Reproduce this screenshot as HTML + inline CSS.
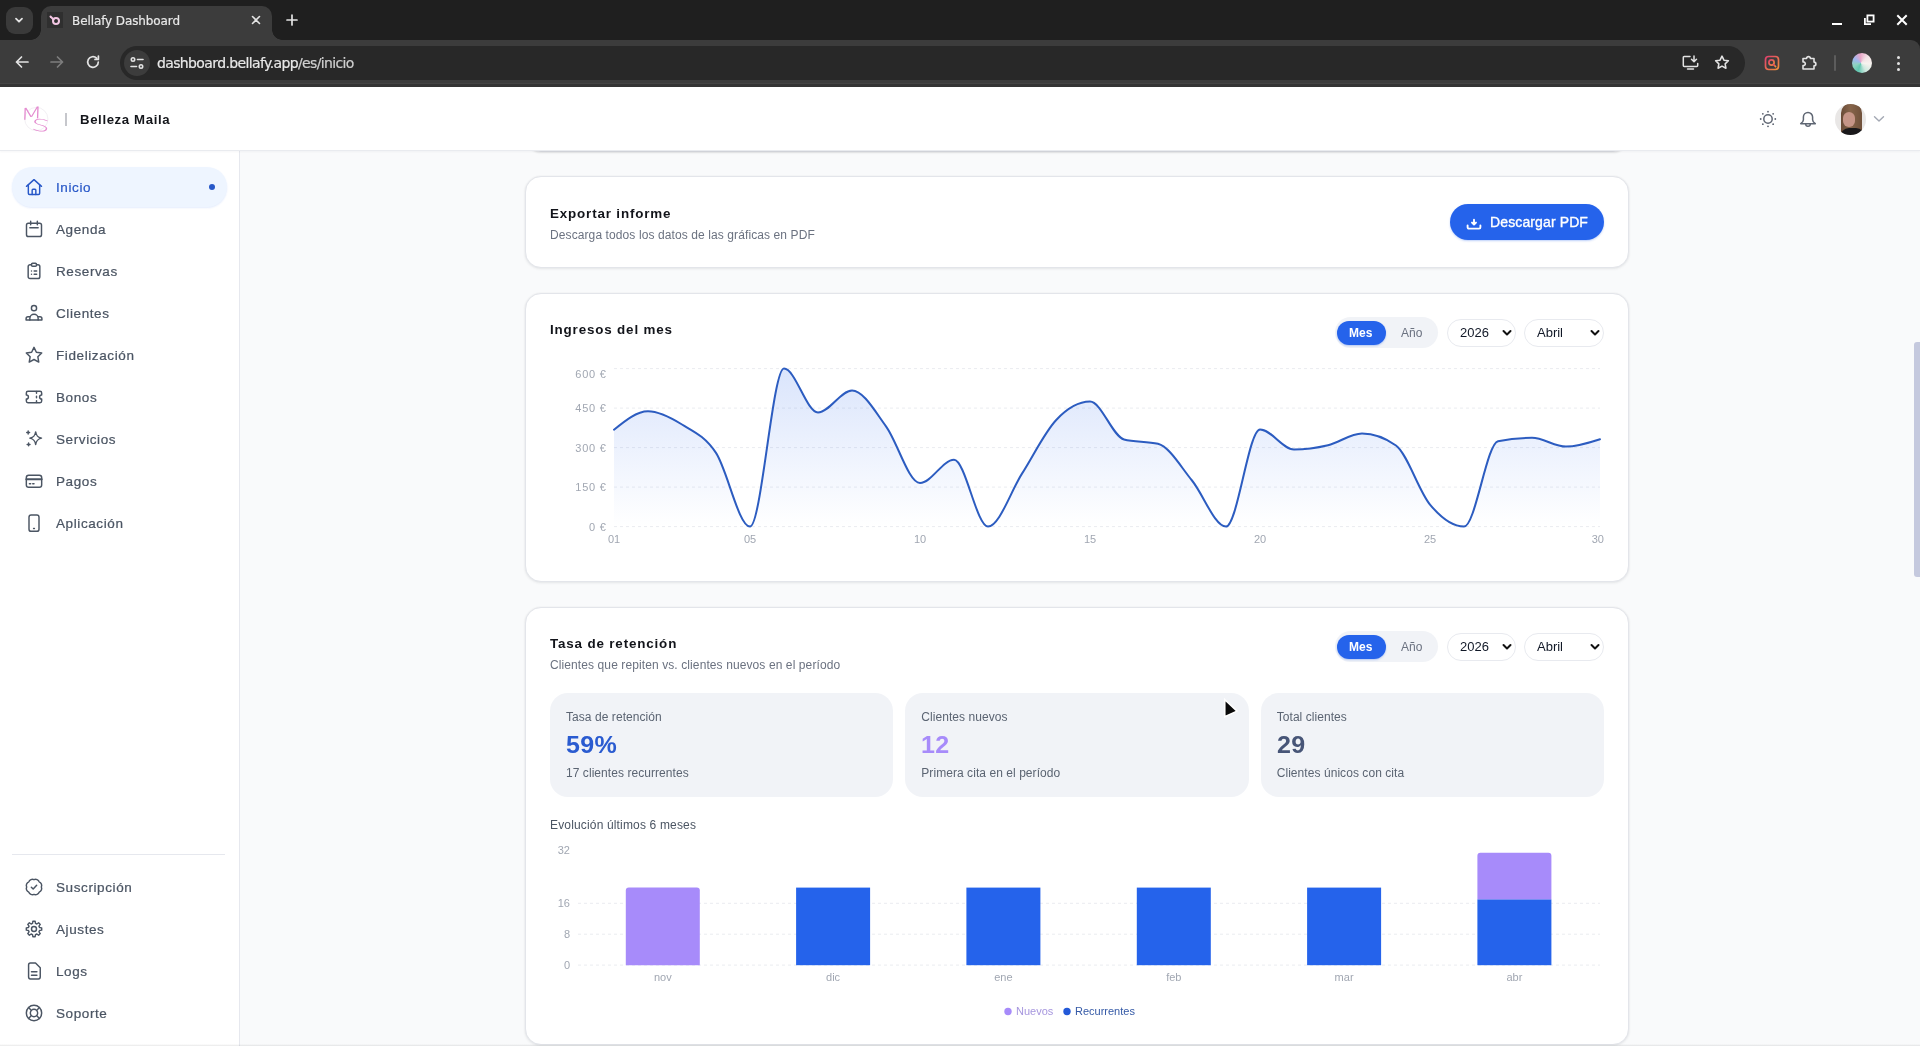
<!DOCTYPE html>
<html lang="es">
<head>
<meta charset="utf-8">
<title>Bellafy Dashboard</title>
<style>
*{box-sizing:border-box;margin:0;padding:0}
html,body{width:1920px;height:1046px;overflow:hidden;background:#f9fafb}
body{position:relative;will-change:transform;font-family:"Liberation Sans","DejaVu Sans",sans-serif;color:#111827;font-size:14px;-webkit-font-smoothing:antialiased}
.abs{position:absolute}
/* ---------- browser chrome ---------- */
#tabstrip{position:absolute;left:0;top:0;width:1920px;height:52px;background:#1f1f1f}
#toolbar{position:absolute;left:0;top:40px;width:1920px;height:47px;background:#3c3c3c;border-bottom:3px solid #343434;border-radius:0 9px 0 0;box-shadow:inset 0 -1px 0 #444}
#tabdrop{position:absolute;left:6px;top:7px;width:27px;height:27px;border-radius:9px;background:#3a3a3a}
#tab{position:absolute;left:41px;top:6px;width:231px;height:34px;background:#3c3c3c;border-radius:10px 10px 0 0}
#tab:before,#tab:after{content:"";position:absolute;bottom:0;width:10px;height:10px;background:radial-gradient(circle at 0 0,transparent 9.5px,#3c3c3c 10px)}
#tab:before{left:-10px}
#tab:after{right:-10px;background:radial-gradient(circle at 100% 0,transparent 9.5px,#3c3c3c 10px)}
.chrometxt{font-family:"DejaVu Sans","Liberation Sans",sans-serif;color:#e8e8e8;white-space:nowrap;-webkit-text-stroke:.2px #e8e8e8}
#tabtitle{position:absolute;left:72px;top:12.6px;font-size:12px;line-height:16px;letter-spacing:-0.1px}
#omni{position:absolute;left:120px;top:46px;width:1625px;height:34px;border-radius:17px;background:#282828}
#siteinfo{position:absolute;left:124px;top:50px;width:26px;height:26px;border-radius:13px;background:#3c3c3c}
#url{position:absolute;left:157px;top:53px;font-size:14px;line-height:20px;letter-spacing:-0.63px}
#url span{color:#cfcfcf;-webkit-text-stroke:.2px #cfcfcf}
/* ---------- app header ---------- */
#hdr{position:absolute;left:0;top:87px;width:1920px;height:64px;background:#fff;border-bottom:1px solid #e9ebef;box-shadow:0 1px 2px rgba(15,23,42,.04);z-index:5}
#brand{position:absolute;left:80px;top:23.5px;font-size:13.2px;line-height:18px;font-weight:700;color:#14161b;letter-spacing:.62px;white-space:nowrap}
#brandsep{position:absolute;left:65px;top:26px;width:2px;height:13px;background:#c6c7cc}
/* ---------- sidebar ---------- */
#side{position:absolute;left:0;top:151px;width:240px;height:895px;background:#fff;border-right:1px solid #e6e8ee;z-index:4}
.nav{position:absolute;left:12px;width:215px;height:40px;border-radius:20px}
.nav svg{position:absolute;left:12px;top:10px;width:20px;height:20px;fill:none;stroke:#4b5563;stroke-width:1.75;stroke-linecap:round;stroke-linejoin:round}
.nav span{position:absolute;left:44px;top:11.6px;font-size:13.5px;line-height:18px;letter-spacing:.6px;color:#4b5563;-webkit-text-stroke:.22px #4b5563;white-space:nowrap}
.nav.on{background:#eef5ff;box-shadow:0 1px 2px rgba(37,99,235,.12)}
.nav.on svg{stroke:#2858c8}
.nav.on span{color:#2858c8;-webkit-text-stroke:.22px #2858c8}
.nav.on i{position:absolute;left:197px;top:17px;width:6px;height:6px;border-radius:3px;background:#2858c8}
#sidesep{position:absolute;left:12px;top:703px;width:213px;height:1px;background:#e6e8ee}
/* ---------- main ---------- */
.card{position:absolute;left:525px;width:1104px;background:#fff;border:1px solid #e3e5ea;border-radius:16px;box-shadow:0 1px 3px rgba(15,23,42,.08),0 0 2px rgba(15,23,42,.05)}
.h{position:absolute;font-size:13.4px;line-height:18px;font-weight:700;color:#12141a;white-space:nowrap;letter-spacing:.84px;margin-top:.5px}
.sub{position:absolute;font-size:12px;line-height:16px;color:#6b7280;white-space:nowrap;letter-spacing:.1px}
.ax{font-family:"Liberation Sans","DejaVu Sans",sans-serif;font-size:11px;fill:#a1a7b2}
.axw{letter-spacing:.8px}
.lg{font-family:"Liberation Sans","DejaVu Sans",sans-serif;font-size:11px}
.bl{font-size:12px;line-height:16px;color:#5b6472;white-space:nowrap;letter-spacing:.06px}
.bv{font-size:23.2px;line-height:28px;font-weight:700;white-space:nowrap;letter-spacing:.3px;transform:scaleX(1.08);transform-origin:0 50%}
</style>
</head>
<body>
<!-- ================= BROWSER CHROME ================= -->
<div id="tabstrip"></div>
<div id="tabdrop"></div>
<div id="tab"></div>
<div id="tabtitle" class="chrometxt">Bellafy Dashboard</div>
<div id="toolbar"></div>
<div id="omni"></div>
<div id="siteinfo"></div>
<div id="url" class="chrometxt">dashboard.bellafy.app<span>/es/inicio</span></div>
<svg class="abs" style="left:13px;top:14px" width="12" height="12" viewBox="0 0 12 12" fill="none" stroke="#e3e3e3" stroke-width="1.800" stroke-linecap="round" stroke-linejoin="round"><path d="M3 4.700l3 3 3-3"/></svg>
<div class="abs" style="left:47px;top:12px;width:16px;height:16px;background:#2f2f2f"></div>
<svg class="abs" style="left:47px;top:12px" width="16" height="16" viewBox="0 0 16 16" fill="none" stroke="#f3c6e3" stroke-width="2" stroke-linecap="round"><circle cx="9" cy="9" r="3"/><path d="M3.500 4.500l3 3"/></svg>
<svg class="abs" style="left:251px;top:15px" width="10" height="10" viewBox="0 0 10 10" fill="none" stroke="#e3e3e3" stroke-width="1.600" stroke-linecap="round"><path d="M1.500 1.500l7 7M8.500 1.500l-7 7"/></svg>
<svg class="abs" style="left:286px;top:14px" width="12" height="12" viewBox="0 0 12 12" fill="none" stroke="#e3e3e3" stroke-width="1.700" stroke-linecap="round"><path d="M6 1v10M1 6h10"/></svg>
<div class="abs" style="left:1832px;top:23px;width:10px;height:2px;background:#fff"></div>
<svg class="abs" style="left:1863px;top:14px" width="12" height="12" viewBox="0 0 12 12" fill="none" stroke="#fff" stroke-width="1.800"><rect x="4.400" y="1.400" width="6.200" height="6.200"/><path d="M1.900 4v6.100H8"/></svg>
<svg class="abs" style="left:1896px;top:14px" width="12" height="12" viewBox="0 0 12 12" fill="none" stroke="#fff" stroke-width="2" stroke-linecap="square"><path d="M2 2l8 8M10 2l-8 8"/></svg>
<svg class="abs" style="left:14px;top:54px" width="16" height="16" viewBox="0 0 16 16" fill="none" stroke="#e3e3e3" stroke-width="1.700" stroke-linecap="round" stroke-linejoin="round"><path d="M14 8H2.500M7.500 3l-5 5 5 5"/></svg>
<svg class="abs" style="left:49px;top:54px" width="16" height="16" viewBox="0 0 16 16" fill="none" stroke="#7d7d7d" stroke-width="1.700" stroke-linecap="round" stroke-linejoin="round"><path d="M2 8h11.500M8.500 3l5 5-5 5"/></svg>
<svg class="abs" style="left:85px;top:54px" width="16" height="16" viewBox="0 0 16 16" fill="none" stroke="#e3e3e3" stroke-width="1.700" stroke-linecap="round" stroke-linejoin="round"><path d="M13.300 8a5.300 5.300 0 1 1-1.700-3.900"/><path d="M13.400 2v3.400H10" /></svg>
<svg class="abs" style="left:129px;top:55px" width="16" height="16" viewBox="0 0 16 16" fill="none" stroke="#e3e3e3" stroke-width="1.600" stroke-linecap="round"><circle cx="4" cy="4.500" r="1.700"/><path d="M8.500 4.500h5.500"/><circle cx="12" cy="11.500" r="1.700"/><path d="M2 11.500h5.500"/></svg>
<svg class="abs" style="left:1682px;top:55px" width="17" height="16" viewBox="0 0 17 16" fill="none" stroke="#e3e3e3" stroke-width="1.500" stroke-linejoin="round" stroke-linecap="round"><path d="M8 1.500H2.200a.900.900 0 0 0-.900.900v8.200a.900.900 0 0 0 .900.900h12.600a.900.900 0 0 0 .900-.900V8.500"/><path d="M5.500 14h6"/><path d="M12 1v5.500M9.500 4.300l2.500 2.500 2.500-2.500"/></svg>
<svg class="abs" style="left:1713px;top:54px" width="18" height="17" viewBox="0 0 24 24" fill="none" stroke="#e3e3e3" stroke-width="2.200" stroke-linejoin="round"><path d="M12 3l2.750 5.700 6.250.850-4.550 4.350 1.100 6.200L12 17.100l-5.550 3 1.100-6.200L3 9.550l6.250-.850z"/></svg>
<svg class="abs" style="left:1764px;top:55px" width="16" height="16" viewBox="0 0 16 16" fill="none" stroke-width="1.700" stroke-linecap="round"><defs><linearGradient id="eg" x1="0" y1="0" x2="1" y2="1"><stop offset="0" stop-color="#e0406e"/><stop offset="1" stop-color="#f0913a"/></linearGradient></defs><rect x="1.500" y="1.500" width="13" height="13" rx="3.200" stroke="url(#eg)"/><circle cx="7.500" cy="7.500" r="2.600" stroke="url(#eg)"/><path d="M9.600 9.600l2 2" stroke="url(#eg)"/></svg>
<svg class="abs" style="left:1800px;top:53px" width="18" height="18" viewBox="0 0 18 18" fill="none" stroke="#e3e3e3" stroke-width="1.600" stroke-linejoin="round"><path d="M3 5.500h3.600a1.900 1.900 0 1 1 3.800 0H14v3.600a1.900 1.900 0 1 1 0 3.800V16H3v-3.400a1.900 1.900 0 1 0 0-3.700z"/></svg>
<div class="abs" style="left:1834px;top:55px;width:2px;height:16px;border-radius:1px;background:#5c5c5c"></div>
<div class="abs" style="left:1852px;top:53px;width:20px;height:20px;border-radius:10px;background:conic-gradient(from 200deg at 45% 50%,#5fc6b0,#8fd3c0,#9fb7f0,#e8a6c8,#f3e3e6,#f7f3ef,#cfe9df,#5fc6b0)"></div>
<div class="abs" style="left:1896.500px;top:55.5px;width:3px;height:3px;border-radius:2px;background:#e3e3e3"></div>
<div class="abs" style="left:1896.500px;top:61.5px;width:3px;height:3px;border-radius:2px;background:#e3e3e3"></div>
<div class="abs" style="left:1896.500px;top:67.5px;width:3px;height:3px;border-radius:2px;background:#e3e3e3"></div>

<!-- ================= APP HEADER ================= -->
<div id="hdr">
  <div id="brandsep"></div>
  <div id="brand">Belleza Maila</div>
  <svg class="abs" style="left:21px;top:14px" width="30" height="34" viewBox="0 0 30 34"><circle cx="15.300" cy="18" r="11.600" fill="none" stroke="#f3f0f4" stroke-width="1"/><text transform="translate(-1 19.300) rotate(-6) skewX(-8) scale(1.450 .900)" font-family="DejaVu Sans, Liberation Sans, sans-serif" font-weight="200" font-size="18" fill="#e48bd0">M</text><text transform="translate(9.600 28.900) rotate(7) scale(1.750 .980)" font-family="DejaVu Sans, Liberation Sans, sans-serif" font-weight="200" font-size="17" fill="#e48bd0">S</text></svg>
<svg class="abs" style="left:1758px;top:22px" width="20" height="20" viewBox="0 0 20 20" fill="none" stroke="#5f6673" stroke-width="1.500" stroke-linecap="round"><circle cx="10" cy="10" r="4.200"/><path d="M17.29 10.00h.02" stroke-width="1.800"/><path d="M15.15 15.16h.02" stroke-width="1.800"/><path d="M9.99 17.30h.02" stroke-width="1.800"/><path d="M4.83 15.16h.02" stroke-width="1.800"/><path d="M2.69 10.00h.02" stroke-width="1.800"/><path d="M4.83 4.84h.02" stroke-width="1.800"/><path d="M9.99 2.70h.02" stroke-width="1.800"/><path d="M15.15 4.84h.02" stroke-width="1.800"/></svg>
<svg class="abs" style="left:1798px;top:22px" width="20" height="20" viewBox="0 0 20 20" fill="none" stroke="#5f6673" stroke-width="1.500" stroke-linecap="round" stroke-linejoin="round"><path d="M10 3.500a4.600 4.600 0 0 0-4.600 4.600v2.700c0 1.600-1 2.800-2.700 3.900h14.600c-1.700-1.100-2.700-2.300-2.700-3.900V8.100A4.600 4.600 0 0 0 10 3.500z"/><path d="M7.700 14.900a2.300 2.300 0 0 0 4.600 0"/></svg>
<div class="abs" style="left:1834.500px;top:17px;width:31px;height:31px;border-radius:16px;overflow:hidden;background:#e9e7e6"><div class="abs" style="left:0;top:0;width:31px;height:31px;filter:blur(.6px)"><div class="abs" style="left:6px;top:-1px;width:21px;height:33px;border-radius:10px 10px 3px 3px;background:linear-gradient(90deg,#6a4b37,#86644a 45%,#70513b)"></div><div class="abs" style="left:8.500px;top:8px;width:11.500px;height:15px;border-radius:6px;background:#c69587"></div><div class="abs" style="left:5px;top:24px;width:25px;height:10px;border-radius:9px 9px 0 0;background:#19181a"></div></div></div>
<svg class="abs" style="left:1872px;top:26px" width="14" height="12" viewBox="0 0 14 12" fill="none" stroke="#a3a8b3" stroke-width="1.400" stroke-linecap="round" stroke-linejoin="round"><path d="M2.500 3.800L7 8l4.500-4.200"/></svg>
</div>

<!-- ================= SIDEBAR ================= -->
<div id="side">
<div class="nav on" style="top:16px"><svg viewBox="0 0 24 24"><path d="M3 11.2 12 3.2l9 8"/><path d="M5.2 9.6V19.6a1.4 1.4 0 0 0 1.4 1.4h10.8a1.4 1.4 0 0 0 1.4-1.4V9.6"/><path d="M9.8 21v-5.2a1 1 0 0 1 1-1h2.4a1 1 0 0 1 1 1V21"/></svg><span>Inicio</span><i></i></div>
<div class="nav" style="top:58px"><svg viewBox="0 0 24 24"><rect x="3" y="5" width="18" height="16" rx="2.2"/><path d="M8 2.8v4M16 2.8v4M7 10.5h10"/></svg><span>Agenda</span></div>
<div class="nav" style="top:100px"><svg viewBox="0 0 24 24"><path d="M9 4.5H7.2A2.2 2.2 0 0 0 5 6.7v12.1A2.2 2.2 0 0 0 7.200 21h9.6a2.200 2.200 0 0 0 2.200-2.200V6.700a2.200 2.200 0 0 0-2.200-2.200H15"/><rect x="9" y="2.600" width="6" height="3.800" rx="1.300"/><path d="M9 12h.01M9 16h.01M12.200 12h3M12.200 16h3"/></svg><span>Reservas</span></div>
<div class="nav" style="top:142px"><svg viewBox="0 0 24 24"><circle cx="12" cy="6.200" r="3.100"/><path d="M7 20.500v-2a5 5 0 0 1 10 0v2z"/><path d="M7 16.500H4.800a2.300 2.300 0 0 0-2.300 2.300v1.700H7M17 16.500h2.200a2.300 2.300 0 0 1 2.300 2.300v1.700H17"/></svg><span>Clientes</span></div>
<div class="nav" style="top:184px"><svg viewBox="0 0 24 24"><path d="M12 2.800l2.850 5.850 6.400.900-4.650 4.500 1.120 6.400L12 17.400l-5.720 3.050 1.120-6.400L2.750 9.550l6.400-.900z"/></svg><span>Fidelización</span></div>
<div class="nav" style="top:226px"><svg viewBox="0 0 24 24"><path d="M2.800 7.200a2 2 0 0 1 2-2h14.400a2 2 0 0 1 2 2v2.300a2.500 2.500 0 0 0 0 5v2.300a2 2 0 0 1-2 2H4.800a2 2 0 0 1-2-2v-2.300a2.500 2.500 0 0 0 0-5z"/><path d="M15 5.500v2M15 11v2M15 16.500v2"/></svg><span>Bonos</span></div>
<div class="nav" style="top:268px"><svg viewBox="0 0 24 24"><path d="M14 3.500c.700 4.700 2.300 6.300 7 7.500-4.700 1.200-6.300 2.800-7 7.500-.700-4.700-2.300-6.300-7-7.500 4.700-1.200 6.300-2.800 7-7.500z"/><path d="M5 2.500v3.400M3.300 4.200h3.400M5.500 16.800v3.400M3.800 18.500h3.400"/></svg><span>Servicios</span></div>
<div class="nav" style="top:310px"><svg viewBox="0 0 24 24"><rect x="2.800" y="5" width="18.400" height="14.500" rx="2.800"/><path d="M2.800 10h18.400" stroke-width="2.400"/><path d="M6.500 15.200h1.500M10.500 15.200h1.500"/></svg><span>Pagos</span></div>
<div class="nav" style="top:352px"><svg viewBox="0 0 24 24"><rect x="6" y="2.500" width="12" height="19.500" rx="2.600"/><path d="M11.500 18.500h1"/></svg><span>Aplicación</span></div>
<div id="sidesep"></div>
<div class="nav" style="top:716px"><svg viewBox="0 0 24 24"><path d="M12.00 3.20A4.6 4.6 0 0 1 18.22 5.78A4.6 4.6 0 0 1 20.80 12.00A4.6 4.6 0 0 1 18.22 18.22A4.6 4.6 0 0 1 12.00 20.80A4.6 4.6 0 0 1 5.78 18.22A4.6 4.6 0 0 1 3.20 12.00A4.6 4.6 0 0 1 5.78 5.78A4.6 4.6 0 0 1 12.00 3.20Z"/><path d="M8.800 12.300l2.200 2.200 4.200-4.500"/></svg><span>Suscripción</span></div>
<div class="nav" style="top:758px"><svg viewBox="0 0 24 24"><path d="M18.66 10.21L21.20 10.63L21.20 13.37L18.66 13.79L17.98 15.45L19.48 17.53L17.53 19.48L15.45 17.98L13.79 18.66L13.37 21.20L10.63 21.20L10.21 18.66L8.55 17.98L6.47 19.48L4.52 17.53L6.02 15.45L5.34 13.79L2.80 13.37L2.80 10.63L5.34 10.21L6.02 8.55L4.52 6.47L6.47 4.52L8.55 6.02L10.21 5.34L10.63 2.80L13.37 2.80L13.79 5.34L15.45 6.02L17.53 4.52L19.48 6.47L17.98 8.55Z"/><circle cx="12" cy="12" r="3"/></svg><span>Ajustes</span></div>
<div class="nav" style="top:800px"><svg viewBox="0 0 24 24"><path d="M5.500 4.700a2.200 2.200 0 0 1 2.200-2.200h6.100L19.500 8v11.300a2.200 2.200 0 0 1-2.200 2.200H7.700a2.200 2.200 0 0 1-2.200-2.200z"/><path d="M9 13h6.500M9 17h6.500"/></svg><span>Logs</span></div>
<div class="nav" style="top:842px"><svg viewBox="0 0 24 24"><circle cx="12" cy="12" r="9.200"/><circle cx="12" cy="12" r="4.400"/><path d="M5.500 5.500l3.400 3.400M18.500 5.500l-3.400 3.400M5.500 18.500l3.400-3.400M18.500 18.500l-3.400-3.400"/></svg><span>Soporte</span></div>
</div>

<!-- ================= MAIN ================= -->
<div class="abs" style="left:525px;top:120px;width:1104px;height:32px;background:#fff;border:1px solid #d6d8dd;border-radius:16px;box-shadow:0 1px 2px rgba(0,0,0,.10)"></div>
<div class="card" style="top:176px;height:92px"></div>
<div class="h" style="left:550px;top:204px" id="t1">Exportar informe</div>
<div class="sub" style="left:550px;top:227px" id="s1">Descarga todos los datos de las gráficas en PDF</div>
<div class="abs" id="btn" style="left:1450px;top:204px;width:154px;height:36px;border-radius:18px;background:#2563eb;box-shadow:0 1px 2px rgba(37,99,235,.3)"></div>
<svg class="abs" style="left:1466px;top:218px" width="16" height="12" viewBox="0 0 16 12" fill="none" stroke="#fff" stroke-width="1.900" stroke-linecap="round" stroke-linejoin="round"><path d="M1.600 7.500v1.800a1.300 1.300 0 0 0 1.300 1.300h10.200a1.300 1.300 0 0 0 1.300-1.300V7.500"/><path d="M8 1.800v4.500M6 4.600l2 2 2-2"/></svg>
<div class="abs" id="btnt" style="left:1490px;top:213px;font-size:14px;line-height:18px;color:#fff;-webkit-text-stroke:.35px #fff;white-space:nowrap;letter-spacing:.12px">Descargar PDF</div>
<div class="card" style="top:292.500px;height:289.500px"></div>
<div class="h" style="left:550px;top:320px" id="t2">Ingresos del mes</div>
<div class="abs" style="left:1335px;top:317px;width:103px;height:31px;border-radius:16px;background:#f1f3f7"></div>
<div class="abs" style="left:1337px;top:320.5px;width:49px;height:24.5px;border-radius:13px;background:#2563eb;box-shadow:0 1px 2px rgba(37,99,235,.3)"></div>
<div class="abs tg" style="left:1349px;top:325px;font-size:12px;line-height:16px;font-weight:700;color:#fff;white-space:nowrap">Mes</div>
<div class="abs tg2" style="left:1401px;top:325px;font-size:12px;line-height:16px;color:#6b7280;white-space:nowrap">Año</div>
<div class="abs" style="left:1447px;top:319px;width:69px;height:28px;border-radius:14px;background:#fff;border:1px solid #e8eaef"></div>
<div class="abs sel1" style="left:1460px;top:325px;font-size:13px;line-height:16px;color:#111827;white-space:nowrap">2026</div>
<svg class="abs" style="left:1501px;top:328px" width="12" height="10" viewBox="0 0 12 10" fill="none" stroke="#111" stroke-width="2" stroke-linecap="round" stroke-linejoin="round"><path d="M2.500 3l3.500 3.500L9.500 3"/></svg>
<div class="abs" style="left:1524px;top:319px;width:80px;height:28px;border-radius:14px;background:#fff;border:1px solid #e8eaef"></div>
<div class="abs sel2" style="left:1537px;top:325px;font-size:13px;line-height:16px;color:#111827;white-space:nowrap">Abril</div>
<svg class="abs" style="left:1589px;top:328px" width="12" height="10" viewBox="0 0 12 10" fill="none" stroke="#111" stroke-width="2" stroke-linecap="round" stroke-linejoin="round"><path d="M2.500 3l3.500 3.500L9.500 3"/></svg>
<div class="card" style="top:606.500px;height:438.500px"></div>
<div class="h" style="left:550px;top:634px" id="t3">Tasa de retención</div>
<div class="sub" style="left:550px;top:657px" id="s3">Clientes que repiten vs. clientes nuevos en el período</div>
<div class="abs" style="left:1335px;top:631px;width:103px;height:31px;border-radius:16px;background:#f1f3f7"></div>
<div class="abs" style="left:1337px;top:634.5px;width:49px;height:24.5px;border-radius:13px;background:#2563eb;box-shadow:0 1px 2px rgba(37,99,235,.3)"></div>
<div class="abs tg" style="left:1349px;top:639px;font-size:12px;line-height:16px;font-weight:700;color:#fff;white-space:nowrap">Mes</div>
<div class="abs tg2" style="left:1401px;top:639px;font-size:12px;line-height:16px;color:#6b7280;white-space:nowrap">Año</div>
<div class="abs" style="left:1447px;top:633px;width:69px;height:28px;border-radius:14px;background:#fff;border:1px solid #e8eaef"></div>
<div class="abs sel1" style="left:1460px;top:639px;font-size:13px;line-height:16px;color:#111827;white-space:nowrap">2026</div>
<svg class="abs" style="left:1501px;top:642px" width="12" height="10" viewBox="0 0 12 10" fill="none" stroke="#111" stroke-width="2" stroke-linecap="round" stroke-linejoin="round"><path d="M2.500 3l3.500 3.500L9.500 3"/></svg>
<div class="abs" style="left:1524px;top:633px;width:80px;height:28px;border-radius:14px;background:#fff;border:1px solid #e8eaef"></div>
<div class="abs sel2" style="left:1537px;top:639px;font-size:13px;line-height:16px;color:#111827;white-space:nowrap">Abril</div>
<svg class="abs" style="left:1589px;top:642px" width="12" height="10" viewBox="0 0 12 10" fill="none" stroke="#111" stroke-width="2" stroke-linecap="round" stroke-linejoin="round"><path d="M2.500 3l3.500 3.500L9.500 3"/></svg>
<div class="abs" style="left:550px;top:693px;width:343.3px;height:104px;border-radius:18px;background:#f1f3f7"></div>
<div class="abs bl" style="left:566px;top:709px">Tasa de retención</div>
<div class="abs bv" style="left:566px;top:731px;color:#2a5bd0">59%</div>
<div class="abs bl bs" style="left:566px;top:765px">17 clientes recurrentes</div>
<div class="abs" style="left:905.3px;top:693px;width:343.3px;height:104px;border-radius:18px;background:#f1f3f7"></div>
<div class="abs bl" style="left:921.3px;top:709px">Clientes nuevos</div>
<div class="abs bv" style="left:921.3px;top:731px;color:#a78bfa">12</div>
<div class="abs bl bs" style="left:921.3px;top:765px">Primera cita en el período</div>
<div class="abs" style="left:1260.7px;top:693px;width:343.3px;height:104px;border-radius:18px;background:#f1f3f7"></div>
<div class="abs bl" style="left:1276.7px;top:709px">Total clientes</div>
<div class="abs bv" style="left:1276.7px;top:731px;color:#475577">29</div>
<div class="abs bl bs" style="left:1276.7px;top:765px">Clientes únicos con cita</div>
<div class="abs bl" style="left:550px;top:817px;color:#4b5563;letter-spacing:.16px" id="evo">Evolución últimos 6 meses</div>
<svg class="abs" style="left:0;top:0" width="1920" height="1046" viewBox="0 0 1920 1046">
<defs><linearGradient id="ag" x1="0" y1="0" x2="0" y2="1"><stop offset="0" stop-color="#2563eb" stop-opacity=".17"/><stop offset="1" stop-color="#2563eb" stop-opacity="0"/></linearGradient></defs>
<path d="M614,368.6H1600" stroke="#eaecf0" stroke-width="1" stroke-dasharray="3 3" fill="none"/>
<path d="M614,408.1H1600" stroke="#eaecf0" stroke-width="1" stroke-dasharray="3 3" fill="none"/>
<path d="M614,447.6H1600" stroke="#eaecf0" stroke-width="1" stroke-dasharray="3 3" fill="none"/>
<path d="M614,487.1H1600" stroke="#eaecf0" stroke-width="1" stroke-dasharray="3 3" fill="none"/>
<path d="M614,526.6H1600" stroke="#eaecf0" stroke-width="1" stroke-dasharray="3 3" fill="none"/>
<path d="M614.0,429.7C625.3,420.5 636.7,411.3 648.0,411.3C659.3,411.3 670.7,417.6 682.0,424.5C693.3,431.4 704.7,435.9 716.0,452.9C727.3,469.9 738.7,526.6 750.0,526.6C761.3,526.6 772.7,368.6 784.0,368.6C795.3,368.6 806.7,412.5 818.0,412.5C829.3,412.5 840.7,390.5 852.0,390.5C863.3,390.5 874.7,410.9 886.0,426.3C897.3,441.7 908.7,483.0 920.0,483.0C931.3,483.0 942.7,459.8 954.0,459.8C965.3,459.8 976.7,526.6 988.0,526.6C999.3,526.6 1010.7,491.3 1022.0,473.6C1033.3,455.9 1044.7,432.2 1056.0,420.2C1067.3,408.2 1078.7,401.6 1090.0,401.6C1101.3,401.6 1112.7,436.6 1124.0,439.5C1135.3,442.4 1146.7,440.9 1158.0,443.8C1169.3,446.7 1180.7,466.7 1192.0,480.5C1203.3,494.3 1214.7,526.6 1226.0,526.6C1237.3,526.6 1248.7,429.4 1260.0,429.4C1271.3,429.4 1282.7,449.5 1294.0,449.5C1305.3,449.5 1316.7,447.9 1328.0,445.2C1339.3,442.5 1350.7,433.5 1362.0,433.5C1373.3,433.5 1384.7,437.5 1396.0,445.5C1407.3,453.5 1418.7,491.1 1430.0,504.6C1441.3,518.1 1452.7,526.6 1464.0,526.6C1475.3,526.6 1486.7,443.5 1498.0,441.2C1509.3,438.9 1520.7,437.8 1532.0,437.8C1543.3,437.8 1554.7,446.6 1566.0,446.6C1577.3,446.6 1588.7,442.9 1600.0,439.2L1600,526.6L614,526.6Z" fill="url(#ag)"/>
<path d="M614.0,429.7C625.3,420.5 636.7,411.3 648.0,411.3C659.3,411.3 670.7,417.6 682.0,424.5C693.3,431.4 704.7,435.9 716.0,452.9C727.3,469.9 738.7,526.6 750.0,526.6C761.3,526.6 772.7,368.6 784.0,368.6C795.3,368.6 806.7,412.5 818.0,412.5C829.3,412.5 840.7,390.5 852.0,390.5C863.3,390.5 874.7,410.9 886.0,426.3C897.3,441.7 908.7,483.0 920.0,483.0C931.3,483.0 942.7,459.8 954.0,459.8C965.3,459.8 976.7,526.6 988.0,526.6C999.3,526.6 1010.7,491.3 1022.0,473.6C1033.3,455.9 1044.7,432.2 1056.0,420.2C1067.3,408.2 1078.7,401.6 1090.0,401.6C1101.3,401.6 1112.7,436.6 1124.0,439.5C1135.3,442.4 1146.7,440.9 1158.0,443.8C1169.3,446.7 1180.7,466.7 1192.0,480.5C1203.3,494.3 1214.7,526.6 1226.0,526.6C1237.3,526.6 1248.7,429.4 1260.0,429.4C1271.3,429.4 1282.7,449.5 1294.0,449.5C1305.3,449.5 1316.7,447.9 1328.0,445.2C1339.3,442.5 1350.7,433.5 1362.0,433.5C1373.3,433.5 1384.7,437.5 1396.0,445.5C1407.3,453.5 1418.7,491.1 1430.0,504.6C1441.3,518.1 1452.7,526.6 1464.0,526.6C1475.3,526.6 1486.7,443.5 1498.0,441.2C1509.3,438.9 1520.7,437.8 1532.0,437.8C1543.3,437.8 1554.7,446.6 1566.0,446.6C1577.3,446.6 1588.7,442.9 1600.0,439.2" fill="none" stroke="#2c5cc0" stroke-width="2" stroke-linejoin="round" stroke-linecap="round"/>
<text x="606.800" y="378" text-anchor="end" class="ax axw">600 €</text>
<text x="606.800" y="412" text-anchor="end" class="ax axw">450 €</text>
<text x="606.800" y="451.5" text-anchor="end" class="ax axw">300 €</text>
<text x="606.800" y="491" text-anchor="end" class="ax axw">150 €</text>
<text x="606.800" y="530.5" text-anchor="end" class="ax axw">0 €</text>
<text x="614" y="543" text-anchor="middle" class="ax">01</text>
<text x="750" y="543" text-anchor="middle" class="ax">05</text>
<text x="920" y="543" text-anchor="middle" class="ax">10</text>
<text x="1090" y="543" text-anchor="middle" class="ax">15</text>
<text x="1260" y="543" text-anchor="middle" class="ax">20</text>
<text x="1430" y="543" text-anchor="middle" class="ax">25</text>
<text x="1604" y="543" text-anchor="end" class="ax">30</text>
<path d="M578,903.3H1600" stroke="#eaecf0" stroke-width="1" stroke-dasharray="3 3" fill="none"/>
<path d="M578,934.2H1600" stroke="#eaecf0" stroke-width="1" stroke-dasharray="3 3" fill="none"/>
<path d="M578,965.1H1600" stroke="#eaecf0" stroke-width="1" stroke-dasharray="3 3" fill="none"/>
<path d="M625.8,965.2V890.6a3,3 0 0 1 3,-3H696.8a3,3 0 0 1 3,3V965.2Z" fill="#a78bfa"/>
<rect x="796.1" y="887.600" width="74" height="77.600" fill="#2563eb"/>
<rect x="966.4" y="887.600" width="74" height="77.600" fill="#2563eb"/>
<rect x="1136.8" y="887.600" width="74" height="77.600" fill="#2563eb"/>
<rect x="1307.1" y="887.600" width="74" height="77.600" fill="#2563eb"/>
<rect x="1477.4" y="899.300" width="74" height="65.900" fill="#2563eb"/>
<path d="M1477.4,899.3000000000001V855.7a3,3 0 0 1 3,-3H1548.4a3,3 0 0 1 3,3V899.3000000000001Z" fill="#a78bfa"/>
<text x="570" y="854" text-anchor="end" class="ax">32</text>
<text x="570" y="907" text-anchor="end" class="ax">16</text>
<text x="570" y="938" text-anchor="end" class="ax">8</text>
<text x="570" y="969" text-anchor="end" class="ax">0</text>
<text x="662.8" y="981" text-anchor="middle" class="ax">nov</text>
<text x="833.1" y="981" text-anchor="middle" class="ax">dic</text>
<text x="1003.4" y="981" text-anchor="middle" class="ax">ene</text>
<text x="1173.8" y="981" text-anchor="middle" class="ax">feb</text>
<text x="1344.1" y="981" text-anchor="middle" class="ax">mar</text>
<text x="1514.4" y="981" text-anchor="middle" class="ax">abr</text>
<circle cx="1008" cy="1011.500" r="3.700" fill="#a78bfa"/><text x="1016" y="1015" class="lg" fill="#a696de">Nuevos</text>
<circle cx="1067" cy="1011.500" r="3.700" fill="#2359d8"/><text x="1075" y="1015" class="lg" fill="#3459a6">Recurrentes</text>
</svg>
<div class="abs" style="left:1914px;top:342px;width:6px;height:235px;border-radius:3px 0 0 3px;background:#c5c9de"></div>
<svg class="abs" style="left:1220px;top:696px;z-index:9" width="22" height="26" viewBox="0 0 22 26"><path d="M4.800 3.600v17.200l12.200-5.700z" fill="#0a0a0a" stroke="#fff" stroke-width="1.500" stroke-linejoin="miter"/></svg>
<div class="abs" id="winbot" style="left:0;top:1044px;width:1920px;height:2px;background:linear-gradient(180deg,rgba(0,0,0,0),rgba(0,0,0,.09));z-index:8"></div>
</body>
</html>
